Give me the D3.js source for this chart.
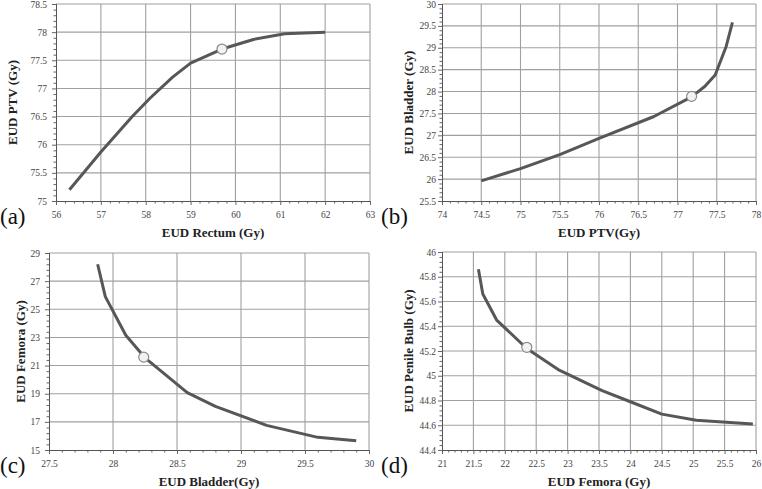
<!DOCTYPE html>
<html>
<head>
<meta charset="utf-8">
<script src="https://cdn.jsdelivr.net/npm/d3@7"></script>
<style>
  body { margin: 0; background: #fff; }
  svg { display: block; }
  .tick-label { font-family: "Liberation Serif", "Times New Roman", serif; font-size: 9.5px; fill: #444; }
  .axis-title { font-family: "Liberation Serif", "Times New Roman", serif; font-size: 13px; font-weight: bold; fill: #222; }
  .panel-label { font-family: "Liberation Serif", "Times New Roman", serif; font-size: 23px; fill: #111; }
</style>
</head>
<body>
<svg id="chart" width="762" height="489"></svg>
<script>
// (a) EUD Rectum vs EUD PTV
const rectumA = [56.3, 57, 57.7, 58.1, 58.6, 59, 59.7, 60.4, 61.1, 62];
const ptvA = [75.2, 75.87, 76.5, 76.83, 77.2, 77.45, 77.7, 77.87, 77.97, 78.0];
const markA = [59.7, 77.7];
const xTicksA = [56, 57, 58, 59, 60, 61, 62, 63];
const yTicksA = [75, 75.5, 76, 76.5, 77, 77.5, 78, 78.5];

// (b) EUD PTV vs EUD Bladder
const ptvB = [74.5, 75, 75.5, 76, 76.7, 77.18, 77.35, 77.48, 77.62, 77.7];
const bladderB = [25.96, 26.24, 26.56, 26.93, 27.43, 27.88, 28.12, 28.38, 29.03, 29.58];
const markB = [77.18, 27.89];
const xTicksB = [74, 74.5, 75, 75.5, 76, 76.5, 77, 77.5, 78];
const yTicksB = [25.5, 26, 26.5, 27, 27.5, 28, 28.5, 29, 29.5, 30];

// (c) EUD Bladder vs EUD Femora
const bladderC = [27.88, 27.94, 28.1, 28.25, 28.58, 28.8, 29.2, 29.6, 29.9];
const femoraC = [28.2, 25.9, 23.15, 21.55, 19.08, 18.1, 16.75, 15.9, 15.65];
const markC = [28.24, 21.6];
const xTicksC = [27.5, 28, 28.5, 29, 29.5, 30];
const yTicksC = [15, 17, 19, 21, 23, 25, 27, 29];

// (d) EUD Femora vs EUD Penile Bulb
const femoraD = [21.58, 21.65, 21.87, 22.35, 22.85, 23.55, 24.0, 24.5, 25.05, 25.95];
const bulbD = [45.86, 45.66, 45.45, 45.22, 45.05, 44.88, 44.79, 44.69, 44.64, 44.61];
const markD = [22.35, 45.23];
const xTicksD = [21, 21.5, 22, 22.5, 23, 23.5, 24, 24.5, 25, 25.5, 26];
const yTicksD = [44.4, 44.6, 44.8, 45, 45.2, 45.4, 45.6, 45.8, 46];

const panels = [
  { label: '(a)', xs: rectumA, ys: ptvA, mark: markA, xTicks: xTicksA, yTicks: yTicksA,
    xTitle: 'EUD Rectum (Gy)', yTitle: 'EUD PTV (Gy)',
    box: { left: 56, right: 370, top: 4, bottom: 201 }, yTitleX: 12, yLabelGap: 9, labelX: 0 },
  { label: '(b)', xs: ptvB, ys: bladderB, mark: markB, xTicks: xTicksB, yTicks: yTicksB,
    xTitle: 'EUD PTV(Gy)', yTitle: 'EUD Bladder (Gy)',
    box: { left: 442, right: 756, top: 4, bottom: 201 }, yTitleX: 408, yLabelGap: 6, labelX: 381 },
  { label: '(c)', xs: bladderC, ys: femoraC, mark: markC, xTicks: xTicksC, yTicks: yTicksC,
    xTitle: 'EUD Bladder(Gy)', yTitle: 'EUD Femora (Gy)',
    box: { left: 49, right: 369, top: 253, bottom: 450 }, yTitleX: 20, yLabelGap: 9, labelX: 0 },
  { label: '(d)', xs: femoraD, ys: bulbD, mark: markD, xTicks: xTicksD, yTicks: yTicksD,
    xTitle: 'EUD Femora (Gy)', yTitle: 'EUD Penile Bulb (Gy)',
    box: { left: 442, right: 756, top: 252, bottom: 450 }, yTitleX: 408, yLabelGap: 6, labelX: 381 }
];

const svg = d3.select('#chart');

// minor ticks: 5 subdivisions between every pair of major ticks
function minorTicks(ticks) {
  const out = [];
  for (let i = 0; i < ticks.length - 1; i++) {
    const step = (ticks[i + 1] - ticks[i]) / 5;
    for (let k = 1; k < 5; k++) out.push(ticks[i] + step * k);
  }
  return out;
}

panels.forEach(p => {
  const b = p.box;
  const x = d3.scaleLinear().domain(d3.extent(p.xTicks)).range([b.left, b.right]);
  const y = d3.scaleLinear().domain(d3.extent(p.yTicks)).range([b.bottom, b.top]);
  const g = svg.append('g');

  // grid
  g.selectAll('.vgrid').data(p.xTicks.slice(1)).join('line')
    .attr('x1', d => x(d)).attr('x2', d => x(d))
    .attr('y1', b.top).attr('y2', b.bottom)
    .attr('stroke', '#a0a0a0').attr('stroke-width', 1.1);
  g.selectAll('.hgrid').data(p.yTicks.slice(1)).join('line')
    .attr('x1', b.left).attr('x2', b.right)
    .attr('y1', d => y(d)).attr('y2', d => y(d))
    .attr('stroke', '#a0a0a0').attr('stroke-width', 1.1);

  // axes
  const xAxis = d3.axisBottom(x).tickValues(p.xTicks).tickSize(4).tickFormat(d => String(d));
  const yAxis = d3.axisLeft(y).tickValues(p.yTicks).tickSize(4).tickFormat(d => String(d));
  const xMinor = d3.axisBottom(x).tickValues(minorTicks(p.xTicks)).tickSize(2.5).tickFormat('');
  const yMinor = d3.axisLeft(y).tickValues(minorTicks(p.yTicks)).tickSize(2.5).tickFormat('');

  [xMinor, xAxis].forEach(ax => {
    g.append('g').attr('transform', `translate(0,${b.bottom})`).call(ax)
      .call(s => s.select('.domain').attr('stroke', '#555'))
      .call(s => s.selectAll('line').attr('stroke', '#666'))
      .call(s => s.selectAll('text').attr('class', 'tick-label').attr('dy', null).attr('y', 17));
  });
  [yMinor, yAxis].forEach(ax => {
    g.append('g').attr('transform', `translate(${b.left},0)`).call(ax)
      .call(s => s.select('.domain').attr('stroke', '#555'))
      .call(s => s.selectAll('line').attr('stroke', '#666'))
      .call(s => s.selectAll('text').attr('class', 'tick-label').attr('x', -p.yLabelGap).attr('dy', '0.32em'));
  });

  // curve
  const pts = p.xs.map((v, i) => [v, p.ys[i]]);
  g.append('path')
    .datum(pts)
    .attr('fill', 'none')
    .attr('stroke', '#575757')
    .attr('stroke-width', 3)
    .attr('stroke-linejoin', 'round')
    .attr('d', d3.line().x(d => x(d[0])).y(d => y(d[1])));

  g.append('circle')
    .attr('cx', x(p.mark[0])).attr('cy', y(p.mark[1])).attr('r', 5)
    .attr('fill', '#f2f2f2').attr('stroke', '#8a8a8a').attr('stroke-width', 1.2);

  // titles
  g.append('text').attr('class', 'axis-title')
    .attr('x', (b.left + b.right) / 2).attr('y', b.bottom + 36)
    .attr('text-anchor', 'middle').text(p.xTitle);
  g.append('text').attr('class', 'axis-title')
    .attr('transform', `translate(${p.yTitleX},${(b.top + b.bottom) / 2}) rotate(-90)`)
    .attr('text-anchor', 'middle').attr('dy', '0.35em').text(p.yTitle);
  g.append('text').attr('class', 'panel-label')
    .attr('x', p.labelX).attr('y', b.bottom + 23).text(p.label);
});
</script>
</body>
</html>
